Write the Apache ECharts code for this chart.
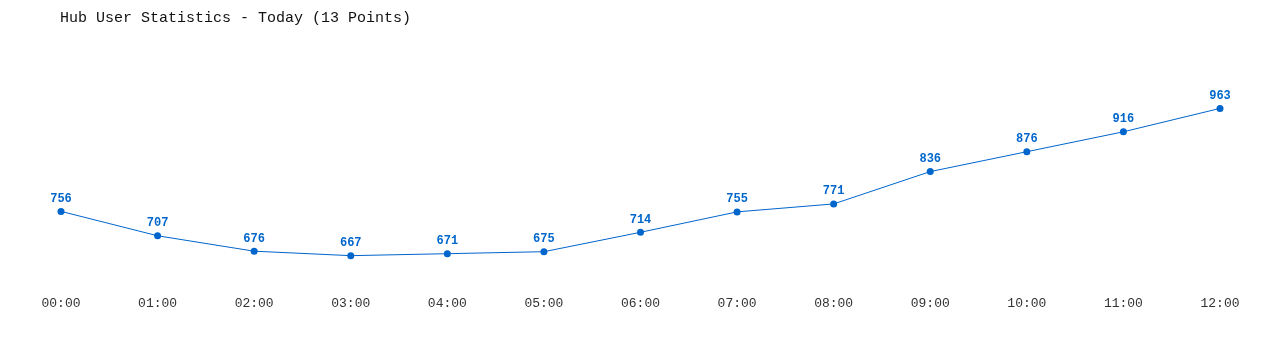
<!DOCTYPE html>
<html><head><meta charset="utf-8">
<script src="https://cdn.jsdelivr.net/npm/echarts@6/dist/echarts.min.js"></script>
<style>html,body{margin:0;padding:0;background:#fff}#c{width:1280px;height:350px}</style>
</head><body><div id="c"></div>
<script>
const categories = ["00:00","01:00","02:00","03:00","04:00","05:00","06:00","07:00","08:00","09:00","10:00","11:00","12:00"];
const users = [756,707,676,667,671,675,714,755,771,836,876,916,963];
const titleText = "Hub User Statistics - Today (13 Points)";
const mono = "Liberation Mono";
const chart = echarts.init(document.getElementById('c'));
chart.setOption({
  animation: false,
  backgroundColor: '#fff',
  title: { text: titleText, left: 55, top: 6, textStyle: { fontFamily: mono, fontSize: 15, fontWeight: 'normal', color: '#111' } },
  grid: { left: 61, right: 60, top: 90, bottom: 61 },
  xAxis: { type: 'category', data: categories, boundaryGap: false,
    axisLine: { show: false }, axisTick: { show: false }, splitLine: { show: false },
    axisLabel: { fontFamily: mono, fontSize: 13, color: '#333', margin: 8 } },
  yAxis: { type: 'value', min: 600, max: 1000, show: false, splitLine: { show: false } },
  series: [{ type: 'line', data: users, symbol: 'circle', symbolSize: 7,
    lineStyle: { width: 1, color: '#0066cc' }, itemStyle: { color: '#0066cc' },
    label: { show: true, position: 'top', distance: 3, fontFamily: mono, fontSize: 12, fontWeight: 'bold', color: '#0066cc' } }]
});
</script></body></html>
